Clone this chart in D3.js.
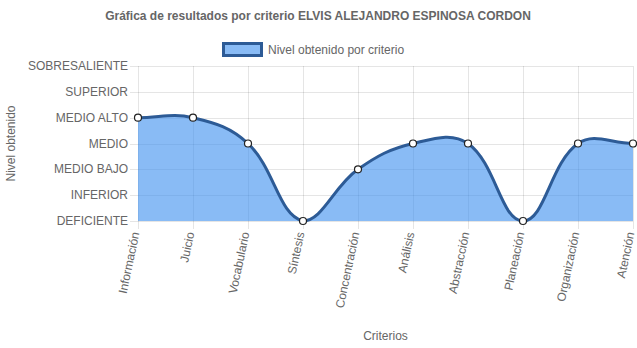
<!DOCTYPE html>
<html><head><meta charset="utf-8">
<script src="https://cdn.jsdelivr.net/npm/d3@7/dist/d3.min.js"></script>
<style>body{margin:0;background:#fff}svg{display:block;font-family:Arial,"Liberation Sans",sans-serif}</style>
</head><body>
<script>
const categories = ["Información","Juicio","Vocabulario","Síntesis","Concentración","Análisis","Abstracción","Planeación","Organización","Atención"];
const levels = ["DEFICIENTE","INFERIOR","MEDIO BAJO","MEDIO","MEDIO ALTO","SUPERIOR","SOBRESALIENTE"];
const values = [4,4,3,0,2,3,3,0,3,3];
const title = "Gráfica de resultados por criterio ELVIS ALEJANDRO ESPINOSA CORDON";
const seriesName = "Nivel obtenido por criterio";

const W=637,H=348;
const area={left:138,right:633,top:66,bottom:221};
const svg=d3.select("body").append("svg").attr("width",W).attr("height",H);
const x=d3.scalePoint().domain(categories).range([area.left,area.right]);
const y=d3.scaleLinear().domain([0,levels.length-1]).range([area.bottom,area.top]);
const grid="rgba(0,0,0,0.1)", txt="#666", fillC="rgba(58,142,238,0.6)";

svg.append("text").attr("x",318).attr("y",20).attr("text-anchor","middle")
 .attr("font-size",12).attr("font-weight","bold").attr("fill",txt).text(title);

// legend
svg.append("rect").attr("x",223.5).attr("y",43.5).attr("width",38).attr("height",12)
 .attr("fill",fillC).attr("stroke","#2d5b96").attr("stroke-width",3);
svg.append("text").attr("x",268).attr("y",54).attr("font-size",12).attr("fill",txt).text(seriesName);

// gridlines
const yt=d3.range(levels.length);
svg.append("g").selectAll("line").data(yt).join("line")
 .attr("x1",area.left-8).attr("x2",area.right).attr("y1",d=>Math.round(y(d))+0.5).attr("y2",d=>Math.round(y(d))+0.5)
 .attr("stroke",grid);
svg.append("g").selectAll("line").data(categories).join("line")
 .attr("x1",d=>Math.round(x(d))+0.5).attr("x2",d=>Math.round(x(d))+0.5).attr("y1",area.top).attr("y2",area.bottom+8)
 .attr("stroke",grid);
svg.append("g").selectAll("text").data(yt).join("text")
 .attr("x",area.left-10).attr("y",d=>y(d)+4).attr("text-anchor","end").attr("font-size",12).attr("fill",txt)
 .text(d=>levels[d]);
svg.append("g").selectAll("text").data(categories).join("text")
 .attr("transform",d=>`translate(${x(d)+1.5},${area.bottom+12}) rotate(-78)`)
 .attr("text-anchor","end").attr("font-size",12).attr("fill",txt).text(d=>d);

svg.append("text").attr("x",(area.left+area.right)/2).attr("y",340).attr("text-anchor","middle")
 .attr("font-size",12).attr("fill",txt).text("Criterios");
svg.append("text").attr("transform",`translate(15,${(area.top+area.bottom)/2}) rotate(-90)`)
 .attr("text-anchor","middle").attr("font-size",12).attr("fill",txt).text("Nivel obtenido");

// Chart.js-like spline
const pts=values.map((v,i)=>({x:x(categories[i]),y:y(v)}));
const t=0.4;
const cps=pts.map((p,i)=>{
  const prev=pts[i-1]||p, next=pts[i+1]||p;
  const d01=Math.hypot(p.x-prev.x,p.y-prev.y), d12=Math.hypot(next.x-p.x,next.y-p.y);
  let s01=d01/(d01+d12), s12=d12/(d01+d12);
  if(isNaN(s01))s01=0; if(isNaN(s12))s12=0;
  const fa=t*s01, fb=t*s12;
  const cl=v=>({x:Math.max(area.left,Math.min(area.right,v.x)),y:Math.max(area.top,Math.min(area.bottom,v.y))});
  return {p:cl({x:p.x-fa*(next.x-prev.x),y:p.y-fa*(next.y-prev.y)}),n:cl({x:p.x+fb*(next.x-prev.x),y:p.y+fb*(next.y-prev.y)})};
});
function build(path){
  path.moveTo(pts[0].x,pts[0].y);
  for(let i=1;i<pts.length;i++){
    path.bezierCurveTo(cps[i-1].n.x,cps[i-1].n.y,cps[i].p.x,cps[i].p.y,pts[i].x,pts[i].y);
  }
  return path;
}
const fp=build(d3.path()); fp.lineTo(pts[pts.length-1].x,y(0)); fp.lineTo(pts[0].x,y(0)); fp.closePath();
svg.append("path").attr("d",fp.toString()).attr("fill",fillC);
svg.append("path").attr("d",build(d3.path()).toString()).attr("fill","none").attr("stroke","#2d5b96").attr("stroke-width",3);
svg.append("g").selectAll("circle").data(pts).join("circle")
 .attr("cx",d=>d.x).attr("cy",d=>d.y).attr("r",3.5).attr("fill","#fff").attr("stroke","#222").attr("stroke-width",1.2);
</script>
</body></html>
